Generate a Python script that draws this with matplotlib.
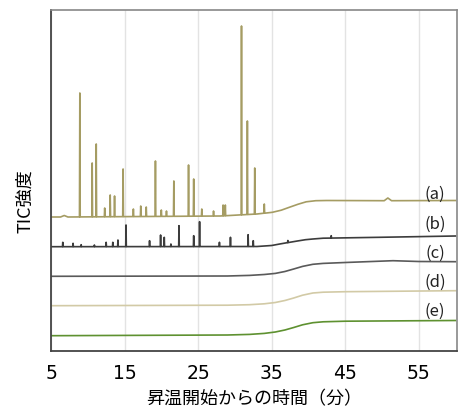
import numpy as np
import matplotlib
matplotlib.use("Agg")
import matplotlib.pyplot as plt

plt.rcParams['font.family'] = ['Noto Sans CJK JP', 'DejaVu Sans']

# ---- data (time in minutes, intensity in arbitrary units) ----
a_base_t = [5, 6.3, 6.8, 7.3, 28, 33, 35.1, 36.3, 37.4, 38.6, 39.7, 41, 42.5, 50.3, 50.8, 51.3, 60]
a_base_v = [134, 134, 135.5, 134, 135, 137, 138.7, 140.8, 143.7, 146.8, 149.2, 150.3, 150.5, 150.3, 153, 150.3, 150.5]
a_peak_t = [8.92, 10.6, 11.15, 12.3, 13.05, 13.64, 14.8, 16.2, 17.2, 17.95, 19.2, 20.0, 20.7,
            21.7, 23.7, 24.4, 25.5, 27.1, 28.4, 28.7, 30.9, 31.7, 32.7, 34.0]
a_peak_v = [258, 188, 207, 143, 156, 155, 182, 142, 145, 144, 190, 141, 140,
            170, 186, 172, 142, 140, 146, 146, 325, 230, 183, 147]

b_base_t = [5, 33, 35, 36.1, 37.3, 38.5, 39.6, 40.6, 42, 49.7, 60]
b_base_v = [104.3, 104.5, 105.5, 107, 108.5, 110, 111.3, 112, 112.8, 113.7, 115]
b_peak_t = [6.6, 8.0, 9.1, 10.9, 12.5, 13.4, 14.1, 15.2, 18.4, 19.9, 20.4, 21.3, 22.4,
            24.4, 25.2, 27.9, 29.4, 31.8, 32.5, 37.2, 43.1]
b_peak_v = [108.7, 107.7, 106.3, 106, 108.7, 108.7, 111, 126, 110.3, 116, 113.7, 107, 125.3,
            115.3, 129.3, 108.7, 113.7, 116.3, 110.3, 110.5, 115.3]

c_base_t = [5, 29, 32, 34, 35.5, 36.8, 38, 39.2, 40.6, 42, 45, 51.5, 55, 60]
c_base_v = [74.7, 75, 75.6, 76.5, 77.6, 79.5, 82, 84.6, 86.7, 87.6, 88.5, 90.3, 89.5, 89.3]

d_base_t = [5, 29, 32, 34, 35.5, 36.8, 38, 39.2, 40.6, 42, 45, 60]
d_base_v = [45.3, 45.8, 46.3, 47.2, 48.5, 50.5, 53, 55.8, 58, 58.8, 59.3, 60.3]

e_base_t = [5, 29, 32, 34, 35.5, 36.8, 38, 39.2, 40.6, 42, 45, 60]
e_base_v = [15.3, 16, 16.6, 17.6, 19, 21, 23.5, 26.2, 28.3, 29.2, 29.8, 30.5]

labels = ['(a)', '(b)', '(c)', '(d)', '(e)']
label_y = [158, 127.7, 98.7, 69.7, 40.3]
colors = ['#a59c63', '#3c3c3c', '#5a5a5a', '#d2caa6', '#5e9130']
xticks = [5, 15, 25, 35, 45, 55]


def trace(bt, bv, pt=None, pv=None, w=0.05):
    t = list(bt)
    v = list(bv)
    if pt is not None:
        for p, h in zip(pt, pv):
            b = float(np.interp(p, bt, bv))
            t += [p - w, p, p + w]
            v += [b, h, b]
    order = np.argsort(t, kind='stable')
    return np.array(t)[order], np.array(v)[order]


fig = plt.figure(figsize=(4.65, 4.10), dpi=100)
ax = fig.add_axes([51 / 465, 58 / 410, 406 / 465, 341 / 410])

series = [
    trace(a_base_t, a_base_v, a_peak_t, a_peak_v),
    trace(b_base_t, b_base_v, b_peak_t, b_peak_v, w=0.04),
    trace(c_base_t, c_base_v),
    trace(d_base_t, d_base_v),
    trace(e_base_t, e_base_v),
]
for (t, v), col in zip(series, colors):
    ax.plot(t, v, color=col, lw=1.2)

for lab, y in zip(labels, label_y):
    ax.text(57.2, y, lab, ha='center', va='center', fontsize=12, color='#222222')

ax.set_xlim(5, 60.2)
ax.set_ylim(0, 341)
ax.set_xticks(xticks)
ax.set_xticklabels([str(x) for x in xticks], family=['Liberation Sans Narrow', 'DejaVu Sans'],
                   fontsize=13.5)
ax.set_yticks([])
ax.tick_params(axis='x', length=0, pad=9)
ax.grid(axis='x', color='#e3e3e3', lw=1)
ax.set_axisbelow(True)
for s in ['left', 'bottom']:
    ax.spines[s].set_color('#444444')
    ax.spines[s].set_linewidth(1.3)
for s in ['top', 'right']:
    ax.spines[s].set_color('#888888')
    ax.spines[s].set_linewidth(1.2)

ax.set_xlabel('昇温開始からの時間（分）', fontsize=13, labelpad=5)
fig.text(25 / 465, 1 - 201 / 410, 'TIC強度', rotation=90, ha='center', va='center', fontsize=13)

fig.savefig('out.png', dpi=100)
